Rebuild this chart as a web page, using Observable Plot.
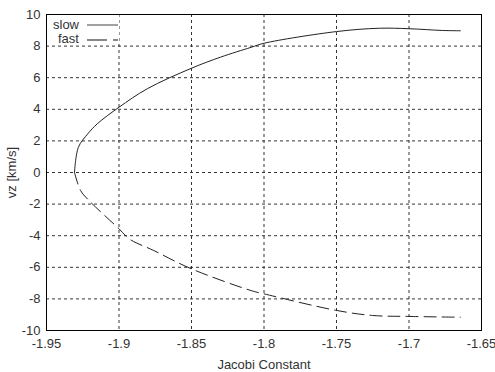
<!DOCTYPE html>
<html>
<head>
<meta charset="utf-8">
<script src="https://cdn.jsdelivr.net/npm/d3@7"></script>
<script src="https://cdn.jsdelivr.net/npm/@observablehq/plot@0.6"></script>
<style>
  html, body { margin: 0; padding: 0; background: #fff; }
  #wrap { position: relative; width: 495px; height: 372px; }
  #legend { position: absolute; left: 47px; top: 15px; width: 72px; height: 29px; background: #fff;
            font-family: "Liberation Sans", Arial, sans-serif; font-size: 13px; color: #333; }
</style>
</head>
<body>
<div id="wrap"></div>
<script>
// Slow branch (upper): Jacobi constant vs vz
const slowC  = [-1.9307, -1.928, -1.9215, -1.915, -1.9, -1.8805, -1.85, -1.83, -1.809, -1.8, -1.75, -1.7205, -1.7, -1.677, -1.6646];
const slowVz = [0, 1.6, 2.45, 3.08, 4.13, 5.3, 6.6, 7.3, 7.92, 8.18, 8.92, 9.13, 9.1, 8.99, 8.97];
// Fast branch (lower)
const fastC  = [-1.9307, -1.9265, -1.9215, -1.9104, -1.9, -1.893, -1.876, -1.85, -1.809, -1.8, -1.75, -1.725, -1.7, -1.6646];
const fastVz = [0, -1.14, -1.7, -2.68, -3.56, -4.2, -4.94, -6.1, -7.47, -7.68, -8.73, -9.05, -9.11, -9.16];
const xTicks = [-1.95, -1.9, -1.85, -1.8, -1.75, -1.7, -1.65];
const yTicks = [-10, -8, -6, -4, -2, 0, 2, 4, 6, 8, 10];

const slow = slowC.map((c, i) => ({c, v: slowVz[i]}));
const fast = fastC.map((c, i) => ({c, v: fastVz[i]}));

const chart = Plot.plot({
  width: 495,
  height: 372,
  marginLeft: 46,
  marginRight: 14,
  marginTop: 14,
  marginBottom: 42,
  style: {fontFamily: "'Liberation Sans', Arial, sans-serif", fontSize: "13px", color: "#333", background: "#fff"},
  x: {domain: [-1.95, -1.65], ticks: xTicks, tickFormat: d => String(d), tickSize: 0, tickPadding: 8,
      label: "Jacobi Constant", labelAnchor: "center", labelArrow: "none", labelOffset: 38},
  y: {domain: [-10, 10], ticks: yTicks, tickFormat: d => String(d), tickSize: 0, tickPadding: 6,
      label: "vz [km/s]", labelAnchor: "center", labelArrow: "none", labelOffset: 40},
  marks: [
    Plot.ruleX(xTicks.slice(1, -1), {stroke: "#333", strokeDasharray: "3,3", strokeWidth: 1}),
    Plot.ruleY(yTicks.slice(1, -1), {stroke: "#333", strokeDasharray: "3,3", strokeWidth: 1}),
    Plot.line(slow, {x: "c", y: "v", stroke: "#222", strokeWidth: 1, curve: "catmull-rom"}),
    Plot.line(fast, {x: "c", y: "v", stroke: "#222", strokeWidth: 1, strokeDasharray: "12,6", curve: "catmull-rom"}),
    Plot.frame({stroke: "#000", strokeWidth: 1})
  ]
});
const wrap = document.getElementById("wrap");
wrap.appendChild(chart);

const legend = document.createElement("div");
legend.id = "legend";
legend.innerHTML = `
<svg width="72" height="32" style="position:absolute;left:0;top:0;overflow:visible">
  <text x="6" y="14" font-family="Liberation Sans, Arial, sans-serif" font-size="13" fill="#333">slow</text>
  <line x1="40" x2="71" y1="10" y2="10" stroke="#444" stroke-width="1"/>
  <text x="11" y="28" font-family="Liberation Sans, Arial, sans-serif" font-size="13" fill="#333">fast</text>
  <line x1="40" x2="71" y1="25" y2="25" stroke="#111" stroke-width="1.2" stroke-dasharray="20,6"/>
</svg>`;
wrap.appendChild(legend);
</script>
</body>
</html>
